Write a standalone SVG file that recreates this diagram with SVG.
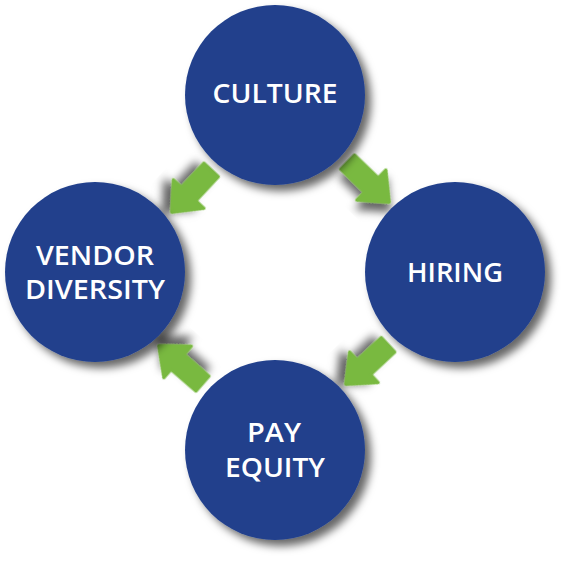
<svg xmlns="http://www.w3.org/2000/svg" width="565" height="561" viewBox="0 0 565 561">
<defs>
<filter id="sh" x="-30%" y="-30%" width="160%" height="160%">
<feDropShadow dx="6" dy="6" stdDeviation="4" flood-color="#000" flood-opacity="0.6"/>
</filter>
<path id="arr" d="M-1,0 L-26,-21 L-26,-10 L-59,-10 L-59,10 L-26,10 L-26,21 Z"/>
</defs>
<style>
.node{fill:#21408c;filter:url(#sh)}
.lbl{fill:#fff;font-family:"Open Sans","Liberation Sans",sans-serif;font-weight:600;font-size:27px;text-anchor:middle}
.ar{fill:#79b940;stroke:#79b940;stroke-width:3;stroke-linejoin:round;filter:url(#sh)}
</style>
<rect width="565" height="561" fill="#fff"/>
<g id="connectors">
<use href="#arr" class="ar" transform="translate(171,213) rotate(133)"/>
<use href="#arr" class="ar" transform="translate(390,203) rotate(44)"/>
<use href="#arr" class="ar" transform="translate(345,385) rotate(137)"/>
<use href="#arr" class="ar" transform="translate(158,345) rotate(221)"/>
</g>
<g id="culture">
<circle class="node" cx="275" cy="95" r="90"/>
<text class="lbl" x="275" y="103" textLength="125" lengthAdjust="spacingAndGlyphs">CULTURE</text>
</g>
<g id="hiring">
<circle class="node" cx="455" cy="272" r="90"/>
<text class="lbl" x="455" y="282" textLength="96" lengthAdjust="spacingAndGlyphs">HIRING</text>
</g>
<g id="vendor-diversity">
<circle class="node" cx="95" cy="272" r="90"/>
<text class="lbl" x="95" y="265" textLength="118" lengthAdjust="spacingAndGlyphs">VENDOR</text>
<text class="lbl" x="95" y="299" textLength="140" lengthAdjust="spacingAndGlyphs">DIVERSITY</text>
</g>
<g id="pay-equity">
<circle class="node" cx="275" cy="450" r="90"/>
<text class="lbl" x="274" y="442" textLength="54" lengthAdjust="spacingAndGlyphs">PAY</text>
<text class="lbl" x="275" y="477" textLength="100" lengthAdjust="spacingAndGlyphs">EQUITY</text>
</g>
</svg>
